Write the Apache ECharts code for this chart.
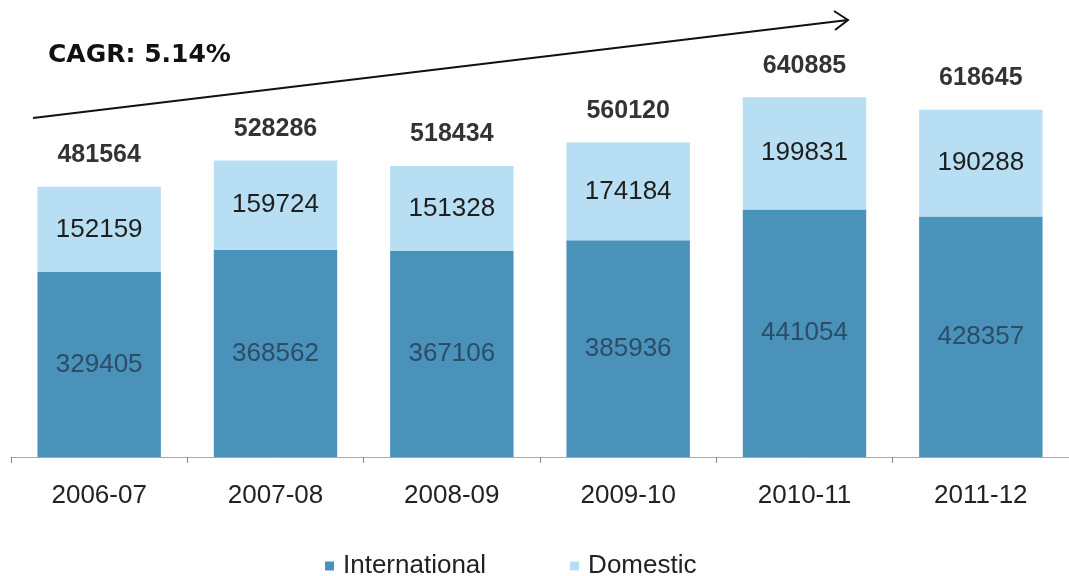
<!DOCTYPE html>
<html><head><meta charset="utf-8">
<script src="https://cdn.jsdelivr.net/npm/echarts@6/dist/echarts.min.js"></script>
<style>html,body{margin:0;padding:0;background:#fff}#c{width:1069px;height:576px}</style>
</head><body><div id="c"></div>
<script>
const categories = ['2006-07','2007-08','2008-09','2009-10','2010-11','2011-12'];
const international = [329405, 368562, 367106, 385936, 441054, 428357];
const domestic = [152159, 159724, 151328, 174184, 199831, 190288];
const totals = [481564, 528286, 518434, 560120, 640885, 618645];
const cagrText = 'CAGR: 5.14%';

const FONT = 'Liberation Sans, Arial';
const chart = echarts.init(document.getElementById('c'));
chart.setOption({
  animation: false,
  backgroundColor: '#ffffff',
  grid: { left: 11, width: 1066, top: 64, bottom: 119, containLabel: false },
  legend: {
    top: 548, left: 320, itemWidth: 9, itemHeight: 9, itemGap: 84,
    icon: 'rect',
    textStyle: { fontFamily: FONT, fontSize: 26, color: '#222', padding: [0, 0, 0, 4] },
    data: ['International', 'Domestic']
  },
  xAxis: {
    type: 'category', data: categories,
    axisLine: { lineStyle: { color: '#aaaaaa', width: 1 } },
    axisTick: { show: true, length: 6, lineStyle: { color: '#888' } },
    axisLabel: { fontFamily: FONT, fontSize: 26, color: '#222', margin: 26 }
  },
  yAxis: { type: 'value', min: 0, max: 700000, show: false, splitLine: { show: false } },
  series: [
    {
      name: 'International', type: 'bar', stack: 'a', data: international, barWidth: '70%',
      itemStyle: { color: '#4b92bb' },
      label: { show: true, position: 'inside', fontFamily: FONT, fontSize: 26, color: '#2b4d66' }
    },
    {
      name: 'Domestic', type: 'bar', stack: 'a', data: domestic, barWidth: '70%',
      itemStyle: { color: '#b7def2' },
      label: { show: true, position: 'inside', fontFamily: FONT, fontSize: 26, color: '#1e1e1e' }
    },
    {
      name: 'Total', type: 'scatter', data: totals, symbolSize: 0, silent: true,
      label: { show: true, position: 'top', distance: 19, formatter: p => p.value,
        fontFamily: FONT, fontWeight: 'bold', fontSize: 25, color: '#000' }
    }
  ],
  graphic: [
    { type: 'text', x: 48, y: 55, style: { text: cagrText, font: 'bold 25px "DejaVu Sans", Verdana', fill: '#111', verticalAlign: 'middle' } },
    { type: 'line', shape: { x1: 33, y1: 118, x2: 848, y2: 20 }, style: { stroke: '#111', lineWidth: 2 } },
    { type: 'polyline', shape: { points: [[834, 11], [848, 20], [835, 30]] }, style: { stroke: '#111', lineWidth: 2, fill: null } }
  ]
});
</script></body></html>
